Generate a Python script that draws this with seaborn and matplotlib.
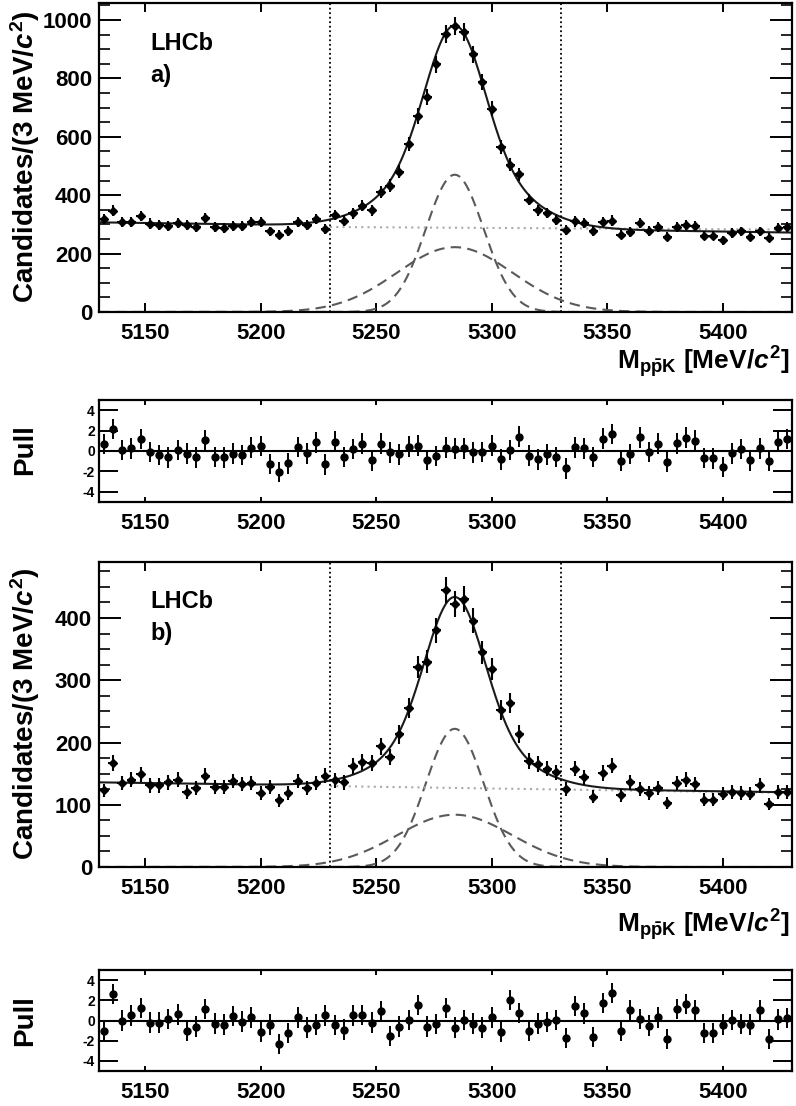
import numpy as np
import matplotlib
matplotlib.use("Agg")
import matplotlib.pyplot as plt
import seaborn as sns

sns.set_theme(style="ticks")
plt.rcParams["font.family"] = ["Liberation Sans", "DejaVu Sans"]
plt.rcParams["font.weight"] = "bold"
plt.rcParams["text.color"] = "black"
plt.rcParams["axes.edgecolor"] = "black"
plt.rcParams["xtick.color"] = "black"
plt.rcParams["ytick.color"] = "black"
plt.rcParams["axes.unicode_minus"] = False
plt.rcParams["mathtext.fontset"] = "custom"
plt.rcParams["mathtext.rm"] = "Liberation Sans:bold"
plt.rcParams["mathtext.it"] = "Liberation Sans:bold:italic"
plt.rcParams["mathtext.bf"] = "Liberation Sans:bold"

# ---- data (4 MeV bins from 5130 to 5430) ----
m_lo, m_hi, bin_w = 5130, 5430, 4
centers = np.arange(m_lo + bin_w / 2, m_hi, bin_w)

counts_a = [318, 347, 307, 309, 328, 303, 299, 296, 305, 299,
            290, 322, 292, 288, 296, 294, 307, 309, 276, 265,
            278, 307, 298, 318, 284, 332, 313, 338, 364, 349,
            410, 433, 481, 574, 671, 737, 848, 952, 979, 960,
            882, 788, 696, 565, 505, 471, 385, 349, 339, 316,
            282, 310, 304, 278, 307, 313, 265, 275, 305, 278,
            290, 258, 290, 299, 296, 261, 261, 246, 270, 276,
            258, 276, 255, 288, 290]
pull_a = [0.69, 2.13, 0.07, 0.26, 1.15, -0.1, -0.39, -0.62, 0.1, -0.26,
          -0.62, 1.05, -0.56, -0.62, -0.26, -0.39, 0.33, 0.49, -1.28, -2.03,
          -1.21, 0.39, -0.23, 0.85, -1.31, 0.92, -0.56, 0.2, 0.72, -0.92,
          0.72, -0.13, -0.33, 0.43, 0.52, -0.89, -0.49, 0.33, 0.23, 0.26,
          -0.13, -0.07, 0.52, -0.82, 0.1, 1.41, -0.46, -0.82, -0.33, -0.59,
          -1.7, 0.36, 0.26, -0.59, 1.21, 1.64, -0.98, -0.3, 1.34, -0.07,
          0.72, -1.05, 0.75, 1.31, 1.02, -0.66, -0.72, -1.57, -0.23, 0.2,
          -0.92, 0.26, -0.98, 0.92, 1.15]

counts_b = [123, 167, 135, 140, 149, 131, 131, 136, 140, 120,
            127, 147, 128, 128, 138, 133, 135, 119, 128, 107,
            119, 138, 127, 135, 147, 139, 136, 162, 168, 167,
            194, 177, 213, 256, 321, 330, 380, 445, 423, 430,
            396, 345, 318, 252, 263, 214, 170, 166, 158, 152,
            125, 158, 144, 113, 151, 163, 115, 136, 126, 119,
            127, 103, 135, 140, 133, 108, 108, 118, 120, 119,
            118, 131, 101, 120, 121]
pull_b = [-1.0, 2.6, 0.0, 0.5, 1.2, -0.2, -0.2, 0.15, 0.6, -1.0,
          -0.6, 1.15, -0.3, -0.4, 0.45, -0.1, 0.3, -1.1, -0.4, -2.3,
          -1.2, 0.3, -0.7, -0.4, 0.5, -0.45, -0.9, 0.5, 0.55, -0.2,
          0.9, -1.5, -0.6, 0.05, 1.5, -0.6, -0.35, 1.2, -0.7, 0.05,
          -0.3, -0.7, 0.3, -1.1, 2.0, 0.75, -1.0, -0.3, -0.15, 0.05,
          -1.7, 1.45, 0.7, -1.65, 1.7, 2.7, -1.0, 1.0, 0.15, -0.5,
          0.3, -1.85, 1.15, 1.6, 1.0, -1.2, -1.25, -0.4, 0.05, -0.35,
          -0.4, 1.0, -1.8, 0.1, 0.25]

# fit components: (linear bkg ends, dotted bkg ends, narrow & wide gaussians)
fit_a = dict(bkg=(307, 272), dot=(291, 282), mu=5284, narrow=(470, 12.5), wide=(222, 25))
fit_b = dict(bkg=(136, 120), dot=(130, 119), mu=5284, narrow=(222, 12.5), wide=(84, 25))
window = (5230, 5330)
ymax = {"a": 1058, "b": 490}

W, H = 796, 1106
fig = plt.figure(figsize=(W / 100, H / 100), dpi=100)


def box(top, bottom, left=99, right=792):
    return [left / W, 1 - bottom / H, (right - left) / W, (bottom - top) / H]


def style_frame(ax):
    for s in ax.spines.values():
        s.set_linewidth(1.6)
        s.set_color("black")
        s.set_zorder(5)
    ax.set_xlim(m_lo, m_hi)
    ax.set_xticks([5150, 5200, 5250, 5300, 5350, 5400])
    ax.tick_params(axis="x", which="major", direction="in", top=True, bottom=True,
                   length=6.5, width=1.4, labelsize=16, pad=8)


def main_panel(ax, counts, fit, tag, ymx, major, minor):
    counts = np.asarray(counts, float)
    mm = np.linspace(m_lo, m_hi, 600)
    b0, b1 = fit["bkg"]
    bkg = b0 + (b1 - b0) * (mm - m_lo) / (m_hi - m_lo)
    g_n = fit["narrow"][0] * np.exp(-0.5 * ((mm - fit["mu"]) / fit["narrow"][1]) ** 2)
    g_w = fit["wide"][0] * np.exp(-0.5 * ((mm - fit["mu"]) / fit["wide"][1]) ** 2)
    d0, d1 = fit["dot"]
    md = np.linspace(window[0], m_hi, 50)
    dot = d0 + (d1 - d0) * (md - window[0]) / (m_hi - window[0])

    sns.lineplot(x=mm, y=g_n, ax=ax, color="#5a5a5a", lw=1.5, linestyle=(0, (5, 3)))
    sns.lineplot(x=mm, y=g_w, ax=ax, color="#5a5a5a", lw=1.5, linestyle=(0, (5, 3)))
    sns.lineplot(x=md, y=dot, ax=ax, color="#aaaaaa", lw=1.5, linestyle=(0, (1, 2)))
    sns.lineplot(x=mm, y=bkg + g_n + g_w, ax=ax, color="#1a1a1a", lw=1.5)
    for v in window:
        ax.axvline(v, color="black", lw=1.3, linestyle=(0, (1, 1.5)))
    ax.errorbar(centers, counts, xerr=bin_w / 2, yerr=np.sqrt(counts), fmt="D",
                ms=4.5, color="black", elinewidth=1.5, capsize=0, zorder=4)

    style_frame(ax)
    ax.set_ylim(0, ymx)
    ax.set_yticks(np.arange(0, ymx, major))
    ax.set_yticks(np.arange(0, ymx, minor), minor=True)
    ax.tick_params(axis="y", which="major", direction="in", left=True, right=True,
                   length=16, width=1.4, labelsize=16, pad=5)
    ax.tick_params(axis="y", which="minor", direction="in", left=True, right=True,
                   length=8, width=1.2)
    ax.set_xlabel("")
    ax.set_ylabel("")
    ax.text(0.074, 0.87, "LHCb", transform=ax.transAxes, fontsize=17,
            fontweight="bold", va="center", ha="left")
    ax.text(0.074, 0.765, tag, transform=ax.transAxes, fontsize=17,
            fontweight="bold", va="center", ha="left")


def pull_panel(ax, pulls):
    ax.axhline(0, color="black", lw=1.5)
    ax.errorbar(centers, pulls, yerr=1, fmt="o", ms=5, color="black",
                elinewidth=1.4, capsize=0, zorder=4)
    style_frame(ax)
    ax.tick_params(axis="x", which="major", length=3.5)
    ax.set_ylim(-5, 5)
    ax.set_yticks([-4, -2, 0, 2, 4])
    ax.tick_params(axis="y", which="major", direction="in", left=True, right=True,
                   length=14, width=1.4, labelsize=10, pad=3)
    ax.set_ylabel("")


ax_a = fig.add_axes(box(3, 312))
ax_pa = fig.add_axes(box(400, 502))
ax_b = fig.add_axes(box(562, 867))
ax_pb = fig.add_axes(box(970, 1071))

main_panel(ax_a, counts_a, fit_a, "a)", ymax["a"], 200, 50)
main_panel(ax_b, counts_b, fit_b, "b)", ymax["b"], 100, 25)
pull_panel(ax_pa, pull_a)
pull_panel(ax_pb, pull_b)

ylab = r"Candidates/(3 MeV/$c^{\mathrm{2}}$)"
xlab = r"M$_{\mathrm{p\bar{p}K}}$ [MeV/$c^{\mathrm{2}}$]"
fig.text(25 / W, 1 - 157 / H, ylab, rotation=90, ha="center", va="center", fontsize=20)
fig.text(25 / W, 1 - 714 / H, ylab, rotation=90, ha="center", va="center", fontsize=20)
fig.text(25 / W, 1 - 450 / H, "Pull", rotation=90, ha="center", va="center", fontsize=20)
fig.text(25 / W, 1 - 1021 / H, "Pull", rotation=90, ha="center", va="center", fontsize=20)
fig.text(790 / W, 1 - 362 / H, xlab, ha="right", va="center", fontsize=19)
fig.text(790 / W, 1 - 925 / H, xlab, ha="right", va="center", fontsize=19)

fig.savefig("out.png", dpi=100)
